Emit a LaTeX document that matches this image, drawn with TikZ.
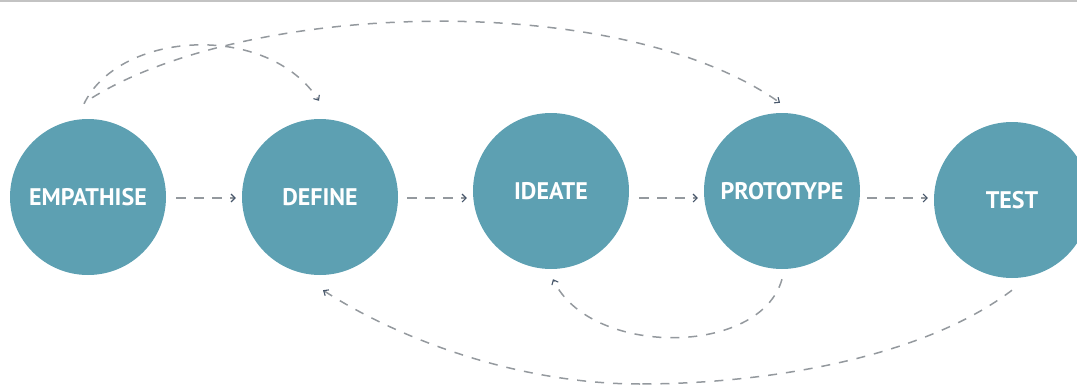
\documentclass[tikz,border=0pt]{standalone}
\usepackage{fontspec}
\setmainfont{PT Sans}
\usetikzlibrary{arrows.meta,calc}
\definecolor{teal}{RGB}{93,160,178}
\definecolor{dashgray}{RGB}{148,153,158}
\definecolor{tipcol}{RGB}{70,86,106}
\definecolor{rulegray}{RGB}{195,195,195}
\tikzset{
  stage/.style={circle, fill=teal, draw=none, minimum size=156pt, inner sep=0pt,
    text=white, font=\bfseries\fontsize{24}{24}\selectfont},
  flow/.style={draw=dashgray, line width=1.4pt, dash pattern=on 10pt off 8pt,
    -{Straight Barb[length=4pt,width=8pt,line width=1.1pt,color=tipcol]}},
  loop/.style={draw=dashgray, line width=1.5pt, dash pattern=on 9pt off 9pt,
    -{Straight Barb[length=4pt,width=7pt,line width=1.1pt,color=tipcol]}},
  plainloop/.style={draw=dashgray, line width=1.5pt, dash pattern=on 9pt off 9pt}
}
\begin{document}
\begin{tikzpicture}[x=1pt,y=-1pt]
\useasboundingbox (0,0) rectangle (1077,388);
\draw[rulegray, line width=2.5pt] (0,1.2) -- (1077,1.2);

\node[stage] (emp) at (88,197)  {EMPATHISE};
\node[stage] (def) at (320,197) {DEFINE};
\node[stage] (ide) at (551,191) {IDEATE};
\node[stage] (pro) at (782,191) {PROTOTYPE};
\node[stage] (tst) at (1012,200) {TEST};

% row of forward arrows
\coordinate (row) at (0,198);
\draw[flow] ([xshift=10pt]emp.east |- row) -- ([xshift=-6pt]def.west |- row);
\draw[flow] ([xshift=9pt]def.east |- row)  -- ([xshift=-6pt]ide.west |- row);
\draw[flow] ([xshift=10pt]ide.east |- row) -- ([xshift=-6pt]pro.west |- row);
\draw[flow] ([xshift=7pt]pro.east |- row)  -- ([xshift=-6pt]tst.west |- row);

% end points of the loops
\coordinate (e1) at ([shift={(-4,-15)}]emp.north);
\coordinate (e2) at ([shift={(4,-21)}]emp.north);
\coordinate (d1) at ([shift={(-1,-18)}]def.north);
\coordinate (p1) at ([shift={(-2,-10)}]pro.north);
\coordinate (i1) at ([shift={(2,10)}]ide.south);
\coordinate (p2) at ([shift={(0,10)}]pro.south);
\coordinate (d2) at ([shift={(3,15)}]def.south);
\coordinate (t1) at ([shift={(0,12)}]tst.south);
\coordinate (lowmid) at (640,384);

% loops above
\draw[loop] (e1) .. controls (120,30) and (268,22) .. (d1);
\draw[loop] (e2) .. controls (250,0) and (620,-10) .. (p1);

% loops below
\draw[loop] (p2) .. controls (760,357) and (590,357) .. (i1);
\draw[plainloop] (t1) .. controls (920,360) and (760,384) .. (lowmid);
\draw[loop] (lowmid) .. controls (520,384) and (400,340) .. (d2);
\end{tikzpicture}
\end{document}
